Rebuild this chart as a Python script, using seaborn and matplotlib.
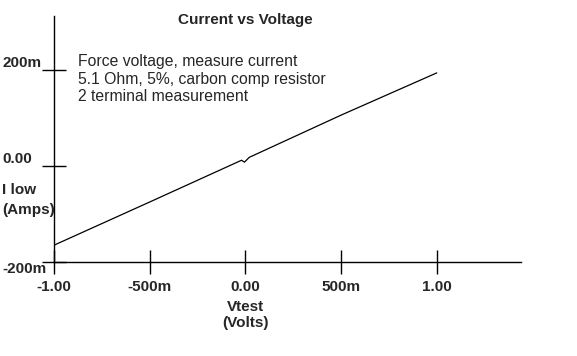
import matplotlib
matplotlib.use("Agg")
import matplotlib.pyplot as plt
import seaborn as sns
import pandas as pd

# sweep (volts, amps)
VTEST = [-1.00, -0.50, -0.02, -0.005, 0.02, 0.50, 1.00]
ILOW = [-0.165, -0.075, 0.012, 0.008, 0.018, 0.106, 0.194]

XTICKS = [-1.0, -0.5, 0.0, 0.5, 1.0]
XLABELS = ["-1.00", "-500m", "0.00", "500m", "1.00"]
YTICKS = [-0.2, 0.0, 0.2]
YLABELS = ["-200m", "0.00", "200m"]

NOTE = "Force voltage, measure current\n5.1 Ohm, 5%, carbon comp resistor\n2 terminal measurement"

sns.set_style("white")
plt.rcParams["font.family"] = ["Liberation Sans", "DejaVu Sans"]

df = pd.DataFrame({"Vtest": VTEST, "Ilow": ILOW})

fig = plt.figure(figsize=(5.77, 3.56), dpi=100)
ax = fig.add_axes([54 / 577, 94 / 356, 467 / 577, 246 / 356])

sns.lineplot(data=df, x="Vtest", y="Ilow", ax=ax, color="black", linewidth=0.9)

ax.set_xlim(-1.0, 1.44)
ax.set_ylim(-0.2, 0.3125)

for s in ["top", "right"]:
    ax.spines[s].set_visible(False)
for s in ["left", "bottom"]:
    ax.spines[s].set_color("black")
    ax.spines[s].set_linewidth(1.0)

ax.set_xticks(XTICKS)
ax.set_xticklabels(XLABELS, fontweight="bold", fontsize=11)
ax.set_yticks(YTICKS)
ax.set_yticklabels(YLABELS, fontweight="bold", fontsize=11)
ax.tick_params(axis="both", direction="inout", length=17.5, width=1.0, color="black",
               bottom=True, left=True)
ax.tick_params(axis="x", pad=4.5)
# y labels are left aligned near the figure edge
ax.tick_params(axis="y", pad=28.5)
for lab in ax.get_yticklabels():
    lab.set_ha("left")
    if lab.get_text() == "-200m":
        lab.set_va("top")
    else:
        lab.set_va("bottom")

ax.set_xlabel("Vtest\n(Volts)", fontweight="bold", fontsize=11, va="top", ha="center", linespacing=1.15)
ax.xaxis.set_label_coords(0.409, -0.155)
ax.set_ylabel("I low\n(Amps)", fontweight="bold", fontsize=11, rotation=0, ha="left", va="center", linespacing=1.6)
ax.yaxis.set_label_coords(-0.111, 0.252)

fig.text(245 / 577, 1 - 20 / 356, "Current vs Voltage", fontweight="bold", fontsize=11,
         ha="center", va="center")
ax.text((78 - 54) / 467, (262 - 54) / 246, NOTE, transform=ax.transAxes, fontsize=11.3,
        ha="left", va="top", linespacing=1.22)

fig.savefig("out.png", dpi=100, facecolor="white")
